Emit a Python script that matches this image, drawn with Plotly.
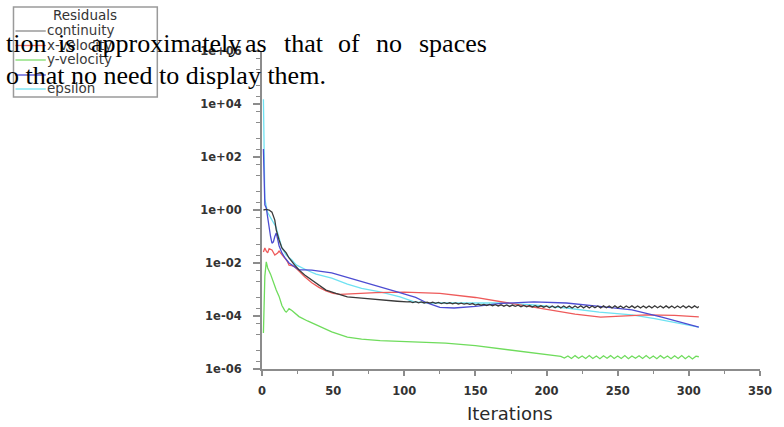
import plotly.graph_objects as go

# ---------------- data (iteration, residual) ----------------
continuity = [
    (1, 1.0), (3, 1.05), (5, 1.0), (7, 0.83), (9, 0.417), (10, 0.178), (12, 0.074),
    (14, 0.037), (17, 0.024), (19, 0.0155), (23, 0.0083), (26, 0.0055), (30, 0.0035),
    (35, 0.0023), (40, 0.0014), (45, 0.00095), (52, 0.00071), (60, 0.00053),
    (70, 0.00047), (83, 0.0004), (95, 0.00036), (102, 0.00034),
    (104, 3.5e-4), (106, 3.2e-4), (108, 3.45e-4), (110, 3.15e-4), (112, 3.4e-4),
    (114, 3.1e-4), (116, 3.35e-4), (118, 3.05e-4), (120, 3.3e-4), (122, 3.0e-4),
    (124, 3.25e-4), (126, 2.95e-4), (128, 3.2e-4), (130, 2.95e-4), (132, 3.15e-4),
    (134, 2.9e-4), (136, 3.1e-4), (138, 2.85e-4), (140, 3.05e-4), (142, 2.8e-4),
    (144, 3.0e-4), (146, 2.75e-4), (148, 2.95e-4),
    (150, 2.6e-4), (152, 2.8e-4), (154, 2.55e-4), (156, 2.75e-4), (158, 2.5e-4),
    (160, 2.72e-4), (162, 2.45e-4), (164, 2.68e-4), (166, 2.4e-4), (168, 2.65e-4),
    (170, 2.35e-4), (172, 2.62e-4), (174, 2.3e-4), (176, 2.58e-4), (178, 2.3e-4),
    (180, 2.55e-4), (182, 2.25e-4), (184, 2.52e-4), (186, 2.22e-4), (188, 2.48e-4),
    (190, 2.2e-4), (192, 2.45e-4), (194, 2.15e-4), (196, 2.42e-4), (198, 2.15e-4),
    (200, 2.4e-4), (202, 2.05e-4), (204, 2.4e-4), (206, 2.05e-4), (208, 2.38e-4),
    (210, 2.02e-4), (212, 2.4e-4), (214, 2.04e-4), (216, 2.36e-4), (218, 2.01e-4),
    (220, 2.4e-4), (222, 2.04e-4), (224, 2.42e-4), (226, 2.03e-4), (228, 2.38e-4),
    (230, 2.02e-4), (232, 2.4e-4), (234, 2.04e-4), (236, 2.38e-4), (238, 2.02e-4),
    (240, 2.41e-4), (242, 2.05e-4), (244, 2.39e-4), (246, 2.02e-4), (248, 2.42e-4),
    (250, 2.03e-4), (252, 2.4e-4), (254, 2.01e-4), (256, 2.38e-4), (258, 2.04e-4),
    (260, 2.41e-4), (262, 2.03e-4), (264, 2.38e-4), (266, 2.02e-4), (268, 2.4e-4),
    (270, 2.03e-4), (272, 2.39e-4), (274, 2.02e-4), (276, 2.42e-4), (278, 2.04e-4),
    (280, 2.38e-4), (282, 2.02e-4), (284, 2.41e-4), (286, 2.03e-4), (288, 2.4e-4),
    (290, 2.01e-4), (292, 2.38e-4), (294, 2.05e-4), (296, 2.42e-4), (298, 2.03e-4),
    (300, 2.39e-4), (302, 2.02e-4), (304, 2.41e-4), (306, 2.06e-4), (307, 2.3e-4),
]

x_velocity = [
    (1, 0.026), (2, 0.037), (3, 0.028), (4, 0.024), (5, 0.035), (6, 0.033),
    (7, 0.031), (8, 0.025), (9, 0.02), (11, 0.024), (12, 0.028), (13, 0.024),
    (15, 0.019), (16, 0.0155), (18, 0.011), (19, 0.0083), (21, 0.0079),
    (23, 0.0071), (26, 0.005), (30, 0.003), (35, 0.0018), (40, 0.0012),
    (45, 0.00089), (50, 0.00071), (55, 0.00066), (65, 0.00071), (80, 0.00076),
    (100, 0.00079), (125, 0.00071), (150, 0.0005), (175, 0.0003), (200, 0.00018),
    (220, 0.000117), (238, 0.000091), (250, 0.0001), (270, 0.00011),
    (290, 0.000105), (307, 0.000093),
]

y_velocity = [
    (1, 2.3e-5), (2, 3.2e-3), (3, 1.1e-2), (4, 6.5e-3), (6, 3.8e-3), (8, 1.8e-3),
    (10, 9.5e-4), (12, 5.5e-4), (14, 2.5e-4), (16, 1.6e-4), (17, 1.4e-4),
    (18, 1.6e-4), (19, 1.9e-4), (21, 1.6e-4), (23, 1.3e-4), (26, 9.5e-5),
    (32, 6.5e-5), (38, 4.6e-5), (49, 2.5e-5), (60, 1.6e-5), (70, 1.35e-5),
    (83, 1.17e-5), (106, 1.05e-5), (129, 9.5e-6), (150, 7.6e-6), (175, 5.2e-6),
    (200, 3.4e-6), (210, 3.0e-6),
    (212.5, 2.6e-6), (215, 3.1e-6), (217.5, 2.5e-6), (220, 3.2e-6), (222.5, 2.55e-6),
    (225, 3.1e-6), (227.5, 2.5e-6), (230, 3.2e-6), (232.5, 2.5e-6), (235, 3.1e-6),
    (237.5, 2.45e-6), (240, 3.15e-6), (242.5, 2.55e-6), (245, 3.2e-6), (247.5, 2.5e-6),
    (250, 3.1e-6), (252.5, 2.5e-6), (255, 3.2e-6), (257.5, 2.45e-6), (260, 3.1e-6),
    (262.5, 2.55e-6), (265, 3.15e-6), (267.5, 2.5e-6), (270, 3.2e-6), (272.5, 2.5e-6),
    (275, 3.1e-6), (277.5, 2.45e-6), (280, 3.2e-6), (282.5, 2.55e-6), (285, 3.1e-6),
    (287.5, 2.45e-6), (290, 3.15e-6), (292.5, 2.5e-6), (295, 3.2e-6), (297.5, 2.45e-6),
    (300, 3.1e-6), (302.5, 2.4e-6), (305, 3.05e-6), (307, 2.9e-6),
]

k_residual = [
    (1, 200.0), (2, 1.55), (3, 1.2), (4, 0.5), (5, 0.2), (6, 0.1), (7, 0.056),
    (8, 0.063), (9, 0.1), (10, 0.135), (11, 0.08), (12, 0.045), (14, 0.024),
    (16, 0.016), (19, 0.01), (23, 0.0071), (26, 0.0055), (30, 0.0055),
    (35, 0.0054), (49, 0.0042), (72, 0.0019), (95, 0.00081), (108, 0.0005),
    (116, 0.00031), (125, 0.00021), (135, 0.0002), (150, 0.00023), (168, 0.0003),
    (191, 0.00034), (214, 0.00031), (237, 0.00023), (260, 0.00017),
    (281, 0.000091), (307, 0.000038),
]

epsilon = [
    (1, 15000.0), (2, 2.5), (4, 0.8), (6, 0.5), (8, 0.35), (10, 0.22), (11, 0.135),
    (14, 0.037), (17, 0.02), (21, 0.013), (24, 0.0085), (28, 0.0065), (32, 0.0052),
    (38, 0.0038), (49, 0.0027), (60, 0.0016), (70, 0.0011), (83, 0.00081),
    (97, 0.00053), (107, 0.00034), (118, 0.00031), (129, 0.00031), (150, 0.0003),
    (168, 0.00031), (191, 0.00026), (214, 0.0002), (237, 0.00014), (260, 0.00011),
    (276, 0.00008), (300, 0.000045), (307, 0.000038),
]

series_names = ["continuity", "x-velocity", "y-velocity", "k", "epsilon"]
legend_labels = ["continuity", "x-velocity", "y-velocity", "", "epsilon"]
series_data = [continuity, x_velocity, y_velocity, k_residual, epsilon]
series_colors = ["#3a3a3a", "#ee5a5a", "#6fdc5c", "#4c4cd2", "#6fe2f2"]
legend_colors = ["#8a8a8a", "#ee6a6a", "#7fdc6c", "#4c4cd2", "#6fe2f2"]
draw_order = [2, 4, 1, 3, 0]

x_tick_vals = [0, 50, 100, 150, 200, 250, 300, 350]
x_tick_text = ["0", "50", "100", "150", "200", "250", "300", "350"]
x_minor_vals = [25, 75, 125, 175, 225, 275, 325]
y_tick_vals = [1e-6, 1e-4, 1e-2, 1e0, 1e2, 1e4, 1e6]
y_tick_text = ["1e-06", "1e-04", "1e-02", "1e+00", "1e+02", "1e+04", "1e+06"]

legend_title = "Residuals"
x_title = "Iterations"
doc_line1_words = ["tion", "is", "approximately", "as", "that", "of", "no", "spaces"]
doc_line2 = "o that no need to display them."

# ---------------- layout geometry (pixels) ----------------
W, H = 784, 427
L, R, T, B = 262, 771, 51, 369


def px(xp):
    return (xp - L) / (R - L)


def py(yp):
    return (B - yp) / (B - T)


fig = go.Figure()
for i in draw_order:
    pts = series_data[i]
    fig.add_trace(go.Scatter(
        x=[p[0] for p in pts], y=[p[1] for p in pts], mode="lines",
        name=series_names[i], line=dict(color=series_colors[i], width=1.3),
        showlegend=False,
    ))

axis_col = "#8c8c8c"
tick_font = dict(family="DejaVu Sans", size=11.5, color="#333333", weight="bold")

minor_y = []
for d in range(-6, 6):
    for m in (2, 5):
        minor_y.append(m * 10.0 ** d)

fig.update_layout(
    width=W, height=H, autosize=False,
    margin=dict(l=L, r=W - R, t=T, b=H - B, pad=0),
    paper_bgcolor="white", plot_bgcolor="white",
    xaxis=dict(
        range=[0, 350], showline=True, linecolor=axis_col, linewidth=2,
        ticks="outside", ticklen=5, tickwidth=1.5, tickcolor=axis_col,
        tickvals=x_tick_vals, ticktext=x_tick_text, tickfont=tick_font,
        showgrid=False, zeroline=False, ticklabelstandoff=5,
        minor=dict(ticks="outside", ticklen=3, tickwidth=1.2, tickcolor=axis_col,
                   tickvals=x_minor_vals, showgrid=False),
    ),
    yaxis=dict(
        type="log", range=[-6, 6], showline=True, linecolor=axis_col, linewidth=2,
        ticks="outside", ticklen=7, tickwidth=1.5, tickcolor=axis_col,
        tickvals=y_tick_vals, ticktext=y_tick_text, tickfont=tick_font,
        showgrid=False, zeroline=False, ticklabelstandoff=9,
        minor=dict(ticks="outside", ticklen=4, tickwidth=1.2, tickcolor=axis_col,
                   tickvals=minor_y, showgrid=False),
    ),
)

shapes = []
annotations = []

# axis title
annotations.append(dict(
    text=x_title, xref="paper", yref="paper", x=px(515), y=py(413),
    xanchor="center", yanchor="middle", showarrow=False,
    font=dict(family="DejaVu Sans", size=18, color="#2a2a2a"),
))

# custom legend box
shapes.append(dict(type="rect", xref="paper", yref="paper",
                   x0=px(8), x1=px(155), y0=py(7), y1=py(97),
                   line=dict(color="#9a9a9a", width=1.5), fillcolor="white", layer="above"))
annotations.append(dict(
    text=legend_title, xref="paper", yref="paper", x=px(81), y=py(15),
    xanchor="center", yanchor="middle", showarrow=False, borderpad=0, borderwidth=0,
    font=dict(family="DejaVu Sans", size=13.5, color="#333333"),
))
row_y = [31, 45.5, 60, 75, 89]
for i, name in enumerate(legend_labels):
    shapes.append(dict(type="line", xref="paper", yref="paper",
                       x0=px(10), x1=px(41), y0=py(row_y[i]), y1=py(row_y[i]),
                       line=dict(color=legend_colors[i], width=1.3), layer="above"))
    if name:
        annotations.append(dict(
            text=name, xref="paper", yref="paper", x=px(42), y=py(row_y[i] - 1),
            xanchor="left", yanchor="middle", showarrow=False, borderpad=0, borderwidth=0,
            font=dict(family="DejaVu Sans", size=13.5, color="#3a3a3a"),
        ))

# overlapping document text (Times)
serif = dict(family="Liberation Serif", size=26, color="black")
line1_x = [0, 53, 87, 245, 284, 340, 379, 422]
for w, xw in zip(doc_line1_words, line1_x):
    annotations.append(dict(
        text=w, xref="paper", yref="paper", x=px(xw), y=py(43.7),
        xanchor="left", yanchor="middle", showarrow=False, borderpad=0, borderwidth=0,
        font=serif,
    ))
annotations.append(dict(
    text=doc_line2, xref="paper", yref="paper", x=px(0), y=py(75.7),
    xanchor="left", yanchor="middle", showarrow=False, borderpad=0, borderwidth=0,
    font=serif,
))

fig.update_layout(shapes=shapes, annotations=annotations)
fig.write_html("out.html")
